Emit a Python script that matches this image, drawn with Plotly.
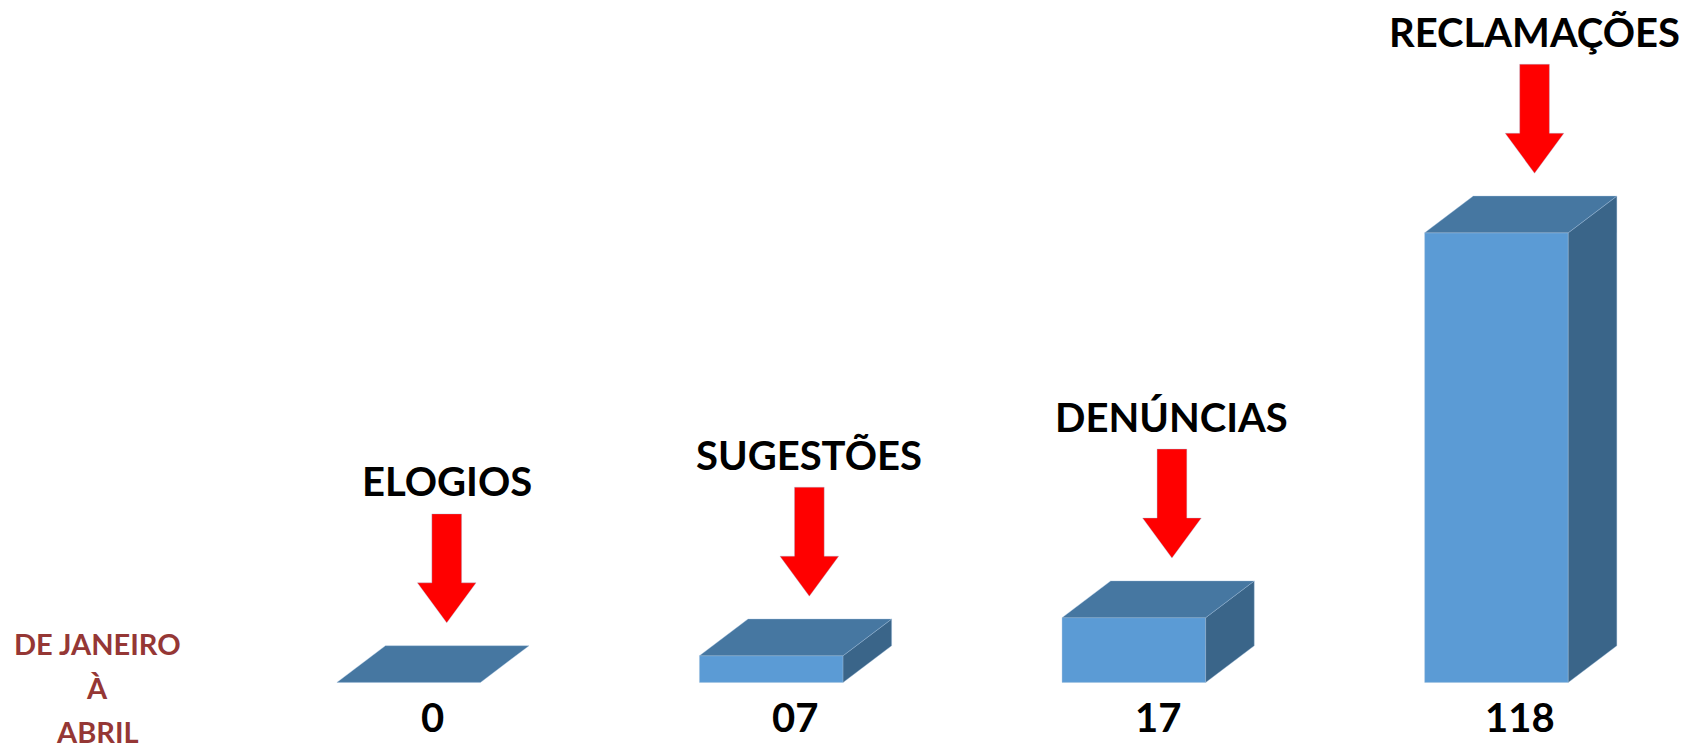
import plotly.graph_objects as go

categories = ["ELOGIOS", "SUGESTÕES", "DENÚNCIAS", "RECLAMAÇÕES"]
values = [0, 7, 17, 118]
value_labels = ["0", "07", "17", "118"]
period_lines = ["DE JANEIRO", "À", "ABRIL"]

W, H = 1693, 749
FRONT = "#5B9BD5"
TOP = "#4677A1"
SIDE = "#3A6589"
RED = "#FF0000"
DARKRED = "#953735"
FONT = "Lato"

# geometry in data units
bw = 0.396          # front face width
ddx = 0.134         # depth offset x
ddy = 9.63          # depth offset y (value units)
x_range = [-1.127, 3.542]
y_range = [-17.48, 179.1]

fig = go.Figure()

def poly(xs, ys, color):
    fig.add_trace(go.Scatter(x=xs + [xs[0]], y=ys + [ys[0]], mode="lines",
                             fill="toself", fillcolor=color,
                             line=dict(width=0.6, color="rgba(160,190,220,0.6)"),
                             hoverinfo="skip", showlegend=False))

for i, v in enumerate(values):
    xl, xr = i - bw / 2, i + bw / 2
    # front face
    if v > 0:
        poly([xl, xr, xr, xl], [0, 0, v, v], FRONT)
        # side face
        poly([xr, xr + ddx, xr + ddx, xr], [0, ddy, v + ddy, v], SIDE)
    # top face
    poly([xl, xr, xr + ddx, xl + ddx], [v, v, v + ddy, v + ddy], TOP)

    # arrow
    ax = i + 0.105
    tip = v + ddy + 6.0
    head_h = 10.5
    length = 28.6
    sw, hw = 0.041, 0.081
    poly([ax - sw, ax + sw, ax + sw, ax + hw, ax, ax - hw, ax - sw],
         [tip + length, tip + length, tip + head_h, tip + head_h, tip, tip + head_h, tip + head_h],
         RED)

    # category label
    fig.add_annotation(x=ax, y=tip + length + 8.5, text=categories[i], showarrow=False,
                       font=dict(family=FONT, size=40, color="black", weight="bold"),
                       xanchor="center", yanchor="middle")
    # value label
    fig.add_annotation(x=i + 0.066, y=-9.1, text=value_labels[i], showarrow=False,
                       font=dict(family=FONT, size=40, color="black", weight="bold"),
                       xanchor="center", yanchor="middle")

for k, line in enumerate(period_lines):
    fig.add_annotation(x=97 / W, y=1 - (643 + 44 * k) / H, xref="paper", yref="paper",
                       text=line, showarrow=False,
                       font=dict(family=FONT, size=29, color=DARKRED, weight="bold"),
                       xanchor="center", yanchor="middle")

fig.update_layout(
    width=W, height=H, margin=dict(l=0, r=0, t=0, b=0),
    paper_bgcolor="white", plot_bgcolor="white",
    xaxis=dict(range=x_range, visible=False, fixedrange=True),
    yaxis=dict(range=y_range, visible=False, fixedrange=True),
    showlegend=False,
)

fig.write_html("out.html", config={"displayModeBar": False},
               post_script="document.body.style.margin='0px';document.body.style.overflow='hidden';")
